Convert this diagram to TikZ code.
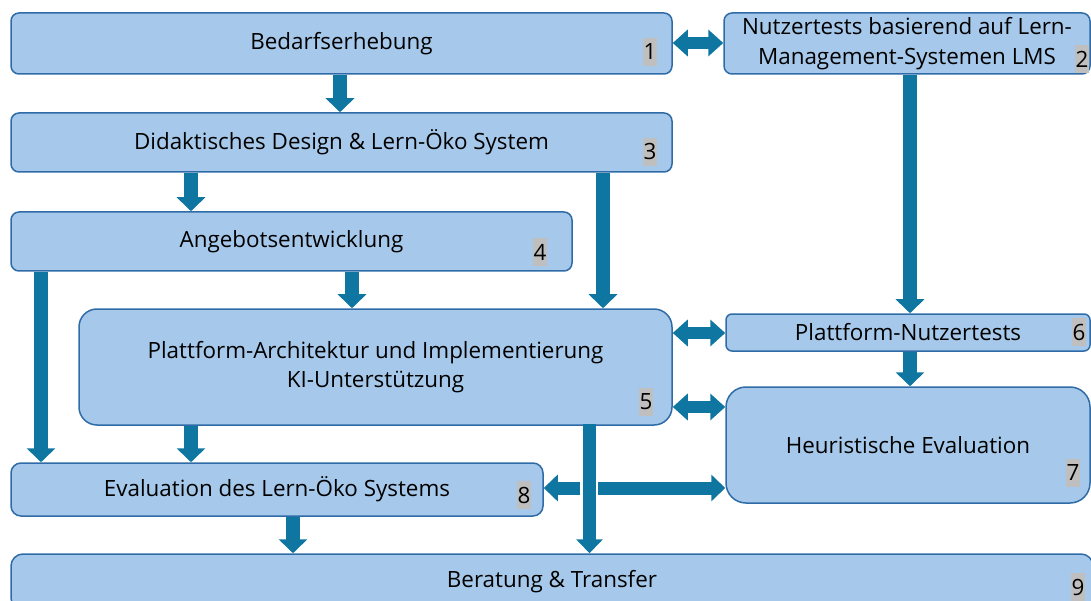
\documentclass[tikz,border=0pt]{standalone}
\usepackage{fontspec}
\setmainfont{Open Sans}
\usetikzlibrary{arrows.meta}
\definecolor{boxfill}{RGB}{166,201,235}
\definecolor{boxline}{RGB}{47,107,166}
\definecolor{flowblue}{RGB}{14,118,160}
\definecolor{badgegrey}{RGB}{191,191,191}
\newcommand{\lbl}{\fontsize{22.4}{29.5}\selectfont}
\begin{document}
\begin{tikzpicture}[x=1pt,y=-1pt,
  stage/.style={draw=boxline, fill=boxfill, line width=1.5pt, rounded corners=#1,
    inner sep=0pt, align=center, font=\lbl},
  stage/.default=8pt,
  badge/.style={fill=badgegrey, inner sep=0pt, minimum width=14pt, minimum height=28pt, font=\lbl},
  flow/.style={draw=flowblue, line width=14pt, -{Triangle[width=28pt,length=14pt]}},
  link/.style={draw=flowblue, line width=12pt,
    {Triangle[width=26pt,length=15pt]}-{Triangle[width=26pt,length=15pt]}},
  side/.style={draw=flowblue, line width=13pt, -{Triangle[width=26pt,length=14pt]}},
]
\useasboundingbox (0,0) rectangle (1091,601);
\clip (0,0) rectangle (1091,601);

% process stages
\node[stage, minimum width=661pt, minimum height=61pt] (n1) at (341.5,43.5) {Bedarfserhebung};
\node[stage, minimum width=366pt, minimum height=61pt] (n2) at (907,43.5)
  {Nutzertests basierend auf Lern-\\Management-Systemen LMS};
\node[stage, minimum width=661pt, minimum height=59pt] (n3) at (341.5,142.5)
  {Didaktisches Design \& Lern-Öko System};
\node[stage, minimum width=561pt, minimum height=59pt] (n4) at (291.5,241.5) {Angebotsentwicklung};
\node[stage=18pt, minimum width=593pt, minimum height=116pt] (n5) at (375.5,367)
  {Plattform-Architektur und Implementierung\\KI-Unterstützung};
\node[stage=6pt, minimum width=364pt, minimum height=37pt] (n6) at (908,332.5) {Plattform-Nutzertests};
\node[stage=20pt, minimum width=364pt, minimum height=116pt] (n7) at (908,445) {Heuristische Evaluation};
\node[stage=10pt, minimum width=532pt, minimum height=53pt] (n8) at (277,489.5)
  {Evaluation des Lern-Öko Systems};
\node[stage=12pt, minimum width=1082pt, minimum height=56pt] (n9) at (552,582) {Beratung \& Transfer};

% step numbers
\node[badge] (b1) at (650,52) {1};
\node[badge] (b2) at (1082,59) {2};
\node[badge] (b3) at (650,152) {3};
\node[badge] (b4) at (540,252) {4};
\node[badge] (b5) at (646,402) {5};
\node[badge] (b6) at (1079,332) {6};
\node[badge] (b7) at (1073,473) {7};
\node[badge] (b8) at (524,495) {8};
\node[badge] (b9) at (1078,587) {9};

% guide columns and rows for the connectors
\coordinate (xa) at (41,0);
\coordinate (xb) at (191,0);
\coordinate (xh) at (293,0);
\coordinate (xc) at (340,0);
\coordinate (xd) at (352,0);
\coordinate (xe) at (589.5,0);
\coordinate (xf) at (603,0);
\coordinate (xg) at (910,0);
\coordinate (ya) at (0,43);
\coordinate (yb) at (0,333);
\coordinate (yc) at (0,407);
\coordinate (yd) at (0,488);
\coordinate (cross) at (xe |- yd);

% connectors
\draw[link] (n1.east |- ya) -- (n2.west |- ya);
\draw[flow] (n1.south -| xc) -- (n3.north -| xc);
\draw[flow] (n3.south -| xb) -- (n4.north -| xb);
\draw[flow] (n3.south -| xf) -- (n5.north -| xf);
\draw[flow] (n2.south -| xg) -- (n6.north -| xg);
\draw[flow] (n4.south -| xd) -- (n5.north -| xd);
\draw[flow] (n4.south -| xa) -- (n8.north -| xa);
\draw[flow] (n5.south -| xb) -- (n8.north -| xb);
\draw[link] (n5.east |- yb) -- (n6.west |- yb);
\draw[link] (n5.east |- yc) -- (n7.west |- yc);
\draw[flow] (n6.south -| xg) -- (n7.north -| xg);
\draw[flow] (n8.south -| xh) -- (n9.north -| xh);
\draw[side] ([xshift=-9.5pt]cross) -- (n8.east |- yd);
\draw[side] ([xshift=8.5pt]cross) -- (n7.west |- yd);
\draw[side] ([yshift=2pt]n5.south -| xe) -- (n9.north -| xe);
\end{tikzpicture}
\end{document}
